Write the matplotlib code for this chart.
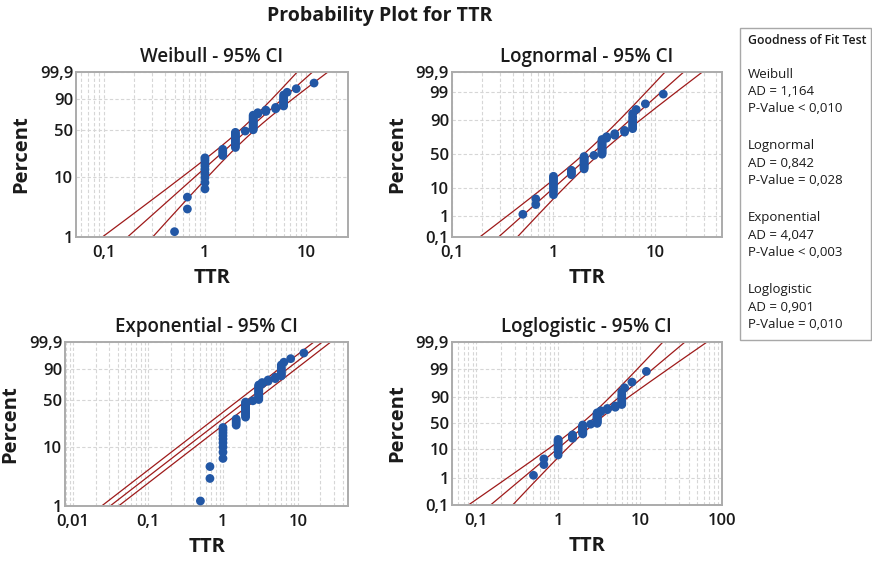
import math
import numpy as np
import matplotlib
matplotlib.use("Agg")
import matplotlib.pyplot as plt
from matplotlib.ticker import FixedLocator, FixedFormatter, LogLocator, NullFormatter
from matplotlib.patches import Rectangle

plt.rcParams['font.family'] = ['Open Sans', 'DejaVu Sans']

# Observed repair times (TTR) and how many times each occurred
ttr_values = [0.5, 0.67, 1, 1.5, 2, 2.5, 3, 3.33, 4, 5, 6, 6.5, 8, 12]
ttr_counts = [1, 2, 9, 4, 11, 1, 13, 2, 2, 2, 7, 1, 1, 1]

# Fitted distribution parameters
weibull_shape, weibull_scale = 1.55, 3.36
lognormal_loc, lognormal_scale = 0.86, 0.678
exponential_mean = 3.1
loglogistic_loc, loglogistic_scale = 0.84, 0.397

# Goodness of fit results
gof_names = ["Weibull", "Lognormal", "Exponential", "Loglogistic"]
gof_ad = ["1,164", "0,842", "4,047", "0,901"]
gof_p = ["< 0,010", "= 0,028", "< 0,003", "= 0,010"]

# Axis ticks
pct_ticks_short = [1, 10, 50, 90, 99.9]
pct_labels_short = ["1", "10", "50", "90", "99,9"]
pct_ticks_long = [0.1, 1, 10, 50, 90, 99, 99.9]
pct_labels_long = ["0,1", "1", "10", "50", "90", "99", "99,9"]

LINE = "#9E1A1A"
DOT = "#2257A5"
GRID = "#D6D6D6"
SPINE = "#ABABAB"
TXT = "#1a1a1a"

# ---------- probability transforms ----------
_erfc = np.vectorize(math.erfc)
_zg = np.linspace(-12, 0, 24001)
_logcdf = np.log(0.5 * _erfc(-_zg / math.sqrt(2)))


def norm_ppf(p):
    p = np.clip(np.asarray(p, float), 1e-300, 1 - 1e-16)
    lo = np.minimum(p, 1 - p)
    z = np.interp(np.log(lo), _logcdf, _zg)
    return np.where(p < 0.5, z, -z)


def norm_cdf(z):
    return 0.5 * _erfc(-np.asarray(z, float) / math.sqrt(2))


def _cl(p):
    return np.clip(np.asarray(p, float) / 100.0, 1e-15, 1 - 1e-15)


def sev_fwd(p):
    return np.log(-np.log1p(-_cl(p)))


def sev_inv(w):
    return 100.0 * (-np.expm1(-np.exp(np.asarray(w, float))))


def nrm_fwd(p):
    return norm_ppf(_cl(p))


def nrm_inv(z):
    return 100.0 * norm_cdf(z)


def lgs_fwd(p):
    q = _cl(p)
    return np.log(q / (1 - q))


def lgs_inv(t):
    return 100.0 / (1 + np.exp(-np.asarray(t, float)))


W = 872.0
H = 562.0
fig = plt.figure(figsize=(W / 100, H / 100), dpi=100)


def px_axes(left, top, right, bottom):
    return fig.add_axes([left / W, 1 - bottom / H, (right - left) / W, (bottom - top) / H])


data = np.repeat(np.array(ttr_values, float), ttr_counts)
n = len(data)
ranks = np.arange(1, n + 1)
plot_pos = (ranks - 0.3) / (n + 0.4) * 100.0
Z95 = 1.96

panels = [
    dict(title="Weibull - 95% CI", box=(76, 71.7, 348, 236.7), xlim=(0.053, 26),
         xticks=[0.1, 1, 10], xlabels=["0,1", "1", "10"],
         yscale=(sev_fwd, sev_inv), ylim=(1, 99.9),
         yt=pct_ticks_short, yl=pct_labels_short, kind="weibull"),
    dict(title="Lognormal - 95% CI", box=(451.7, 71.7, 721.7, 236.7), xlim=(0.1, 45),
         xticks=[0.1, 1, 10], xlabels=["0,1", "1", "10"],
         yscale=(nrm_fwd, nrm_inv), ylim=(0.1, 99.9),
         yt=pct_ticks_long, yl=pct_labels_long, kind="lognormal"),
    dict(title="Exponential - 95% CI", box=(65, 341.7, 348.3, 506), xlim=(0.0078, 47),
         xticks=[0.01, 0.1, 1, 10], xlabels=["0,01", "0,1", "1", "10"],
         yscale=(sev_fwd, sev_inv), ylim=(1, 99.9),
         yt=pct_ticks_short, yl=pct_labels_short, kind="exponential"),
    dict(title="Loglogistic - 95% CI", box=(451.7, 341.7, 721.7, 505), xlim=(0.05, 100),
         xticks=[0.1, 1, 10, 100], xlabels=["0,1", "1", "10", "100"],
         yscale=(lgs_fwd, lgs_inv), ylim=(0.1, 99.9),
         yt=pct_ticks_long, yl=pct_labels_long, kind="loglogistic"),
]


def fit_lines(kind, p):
    """Return ln(x) of fitted percentile and its 95% half-width for fractions p."""
    if kind == "weibull":
        w = np.log(-np.log1p(-p))
        b = 1.0 / weibull_shape
        lx = np.log(weibull_scale) + w * b
        var = b * b / n * (1.109 + 0.608 * w * w + 2 * 0.257 * w)
    elif kind == "lognormal":
        z = norm_ppf(p)
        lx = lognormal_loc + lognormal_scale * z
        var = lognormal_scale ** 2 / n * (1 + z * z / 2)
    elif kind == "exponential":
        w = np.log(-np.log1p(-p))
        lx = np.log(exponential_mean) + w
        var = np.full_like(p, 1.0 / n)
    else:
        t = np.log(p / (1 - p))
        lx = loglogistic_loc + loglogistic_scale * t
        var = loglogistic_scale ** 2 / n * (3 + 0.699 * t * t)
    return lx, Z95 * np.sqrt(var)


for pn in panels:
    ax = px_axes(*pn["box"])
    fwd, inv = pn["yscale"]
    ax.set_xscale("log")
    ax.set_yscale("function", functions=(fwd, inv))
    ax.set_xlim(*pn["xlim"])
    ax.set_ylim(*pn["ylim"])

    # grid
    ax.xaxis.set_major_locator(FixedLocator(pn["xticks"]))
    ax.xaxis.set_major_formatter(FixedFormatter(pn["xlabels"]))
    ax.xaxis.set_minor_locator(LogLocator(base=10, subs=np.arange(2, 10), numticks=50))
    ax.xaxis.set_minor_formatter(NullFormatter())
    ax.yaxis.set_major_locator(FixedLocator(pn["yt"]))
    ax.yaxis.set_major_formatter(FixedFormatter(pn["yl"]))
    ax.yaxis.set_minor_locator(FixedLocator([]))
    ax.grid(True, which="both", axis="x", color=GRID, ls=(0, (3, 2)), lw=0.8)
    ax.grid(True, which="major", axis="y", color=GRID, ls=(0, (3, 2)), lw=0.8)
    ax.set_axisbelow(True)

    for s in ax.spines.values():
        s.set_color(SPINE)
        s.set_linewidth(1.4)
    ax.tick_params(which="both", length=0, labelsize=12, labelcolor=TXT)
    ax.tick_params(axis="x", pad=6)
    ax.tick_params(axis="y", pad=2)
    for lab in ax.get_xticklabels() + ax.get_yticklabels():
        lab.set_fontweight("semibold")

    # fitted line with 95% bounds
    lo_t, hi_t = fwd(np.array([pn["ylim"][0]]))[0], fwd(np.array([pn["ylim"][1]]))[0]
    tg = np.linspace(lo_t - 1.5, hi_t + 1.5, 600)
    pg = inv(tg) / 100.0
    pg = np.clip(pg, 1e-12, 1 - 1e-12)
    lx, hw = fit_lines(pn["kind"], pg)
    ax.plot(np.exp(lx), pg * 100, color=LINE, lw=0.9, zorder=2)
    ax.plot(np.exp(lx - hw), pg * 100, color=LINE, lw=0.9, zorder=2)
    ax.plot(np.exp(lx + hw), pg * 100, color=LINE, lw=0.9, zorder=2)

    ax.scatter(data, plot_pos, s=40, color=DOT, edgecolors="none", zorder=3)

    ax.set_title(pn["title"], fontsize=13.5, fontweight="semibold", pad=7, color=TXT)
    ax.set_xlabel("TTR", fontsize=14.5, fontweight="bold", labelpad=5, color=TXT)
    ax.set_ylabel("Percent", fontsize=14.5, fontweight="bold", labelpad=6, color=TXT)

fig.text(380 / W, 1 - 16 / H, "Probability Plot for TTR", ha="center", va="center",
         fontsize=14, fontweight="bold", color=TXT)

# goodness of fit box
fig.patches.append(Rectangle((740 / W, 1 - 340 / H), 131 / W, 312 / H,
                             transform=fig.transFigure, fill=False,
                             edgecolor="#A8A8A8", lw=1.0))
fig.text(748 / W, 1 - 41 / H, "Goodness of Fit Test", fontsize=8.8, fontweight="semibold",
         va="center", color=TXT)
y0 = 74
for i, name in enumerate(gof_names):
    base = y0 + i * 72
    fig.text(748 / W, 1 - base / H, name, fontsize=9.5, va="center", color=TXT)
    fig.text(748 / W, 1 - (base + 17.5) / H, "AD = " + gof_ad[i], fontsize=9.5,
             va="center", color=TXT)
    fig.text(748 / W, 1 - (base + 35) / H, "P-Value " + gof_p[i], fontsize=9.5,
             va="center", color=TXT)

fig.savefig("out.png", dpi=100)
